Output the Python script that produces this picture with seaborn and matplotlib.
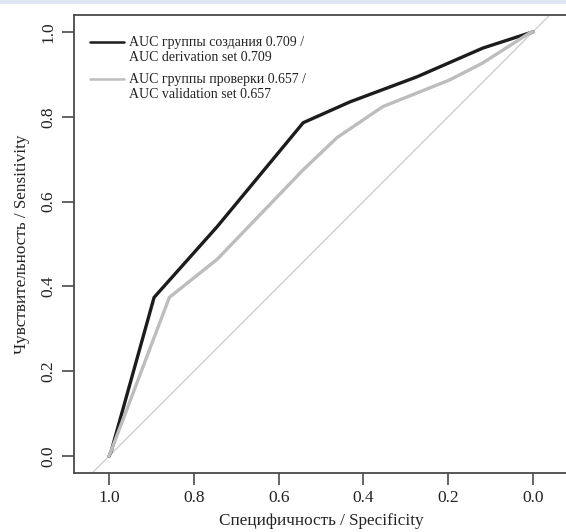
import numpy as np
import pandas as pd
import seaborn as sns
import matplotlib.pyplot as plt
from matplotlib.patches import Rectangle

# Точки ROC-кривых (специфичность, чувствительность)
deriv_spec = [1.0, 0.995, 0.894, 0.745, 0.542, 0.432, 0.274, 0.118, 0.007, 0.0]
deriv_sens = [0.0, 0.012, 0.374, 0.541, 0.786, 0.835, 0.894, 0.962, 0.998, 1.0]

valid_spec = [1.0, 0.858, 0.745, 0.542, 0.462, 0.354, 0.196, 0.118, 0.007, 0.0]
valid_sens = [0.0, 0.374, 0.464, 0.675, 0.751, 0.824, 0.887, 0.927, 0.998, 1.0]

label_deriv = 'AUC группы создания 0.709 /\nAUC derivation set 0.709'
label_valid = 'AUC группы проверки 0.657 /\nAUC validation set 0.657'

tick_values = [1.0, 0.8, 0.6, 0.4, 0.2, 0.0]

df = pd.concat([
    pd.DataFrame({'spec': deriv_spec, 'sens': deriv_sens, 'group': label_deriv}),
    pd.DataFrame({'spec': valid_spec, 'sens': valid_sens, 'group': label_valid}),
])

sns.set_theme(style='ticks')
plt.rcParams['font.family'] = ['Liberation Serif', 'DejaVu Serif']

fig = plt.figure(figsize=(5.66, 5.32), dpi=100)
ax = fig.add_axes([74 / 566, 1 - 473 / 532, 494 / 566, 458 / 532])

# светло-голубая полоса сверху
fig.patches.append(Rectangle((0, 1 - 4 / 532), 1, 4 / 532, transform=fig.transFigure,
                             facecolor='#dde7f3', edgecolor='none'))

# диагональ
ax.axline((1, 0), (0, 1), color='#cfcfcf', lw=1.0, zorder=1)

sns.lineplot(data=df, x='spec', y='sens', hue='group', sort=False, estimator=None,
             palette={label_deriv: '#1c1c1c', label_valid: '#bdbdbd'},
             lw=2.4, ax=ax, zorder=3)

ax.set_xlim(1.083, -0.083)
ax.set_ylim(-0.04, 1.04)
ax.set_xticks(tick_values)
ax.set_xticklabels([f'{v:.1f}' for v in tick_values])
ax.set_yticks(tick_values)
ax.set_yticklabels([f'{v:.1f}' for v in tick_values], rotation=90, va='center')

for side in ['left', 'top', 'bottom', 'right']:
    ax.spines[side].set_color('#4a4a4a')
    ax.spines[side].set_linewidth(1.3)
ax.tick_params(direction='out', length=8.5, width=1.2, color='#4a4a4a',
               labelsize=12.5, labelcolor='#222222', pad=4)

ax.set_xlabel('Специфичность / Specificity', fontsize=12.3, color='#222222', labelpad=5)
ax.set_ylabel('Чувствительность / Sensitivity', fontsize=12.3, color='#222222', labelpad=8)

leg = ax.legend(loc='upper left', bbox_to_anchor=(0.032, 0.955), frameon=False,
                fontsize=10, handlelength=2.45, handletextpad=0.4,
                labelspacing=0.65, borderaxespad=0, borderpad=0)
for t in leg.get_texts():
    t.set_linespacing(1.2)
    t.set_color('#222222')
# линия легенды на уровне первой строки подписи
for h in leg.get_lines():
    h.set_linewidth(1.8)
    h.set_ydata(np.asarray(h.get_ydata()) + 5.5)

fig.savefig('out.png', dpi=100)
